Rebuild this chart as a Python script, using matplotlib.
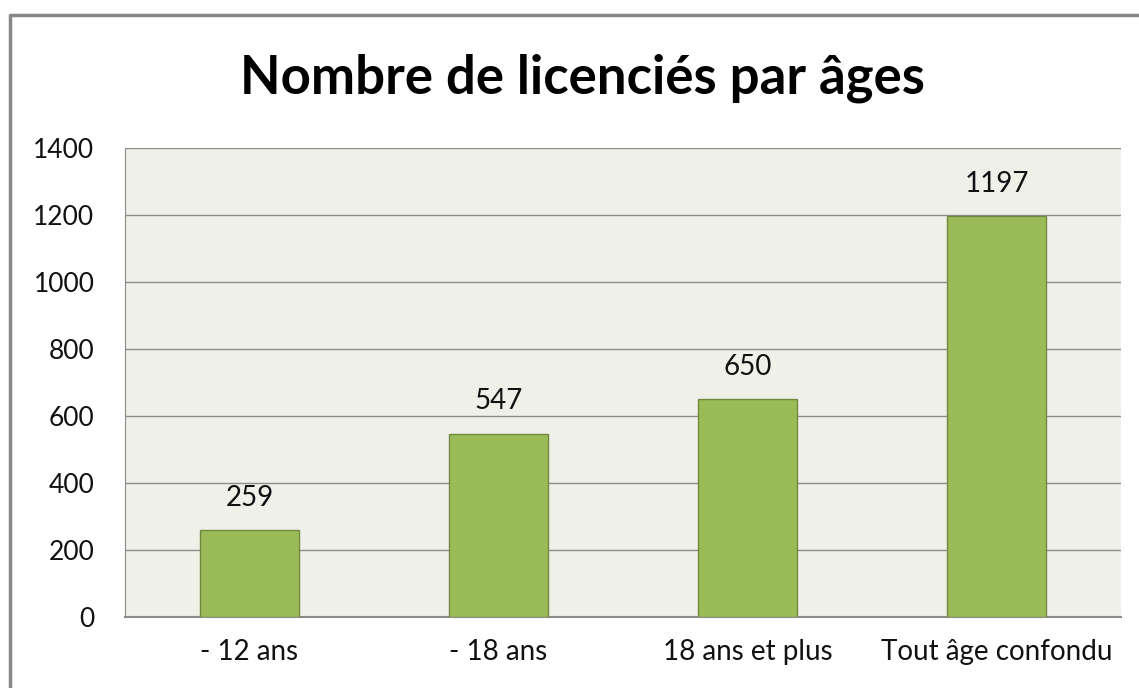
import matplotlib.pyplot as plt
from matplotlib.lines import Line2D

categories = ["- 12 ans", "- 18 ans", "18 ans et plus", "Tout âge confondu"]
values = [259, 547, 650, 1197]
y_ticks = [0, 200, 400, 600, 800, 1000, 1200, 1400]

plt.rcParams['font.family'] = ['Lato', 'DejaVu Sans']

W, H = 1139, 688
fig = plt.figure(figsize=(W / 100, H / 100), dpi=100)
fig.patch.set_facecolor("white")

# outer chart border (only top and left are inside the picture)
fig.lines.append(Line2D([10 / W, 10 / W, 1.0], [0.0, 1 - 15 / H, 1 - 15 / H],
                        transform=fig.transFigure, color="#878787", linewidth=2.5))

ax = fig.add_axes([125 / W, 1 - 617 / H, (1121 - 125) / W, (617 - 148) / H])
ax.set_facecolor("#EFF1E9")

x = range(len(categories))
bars = ax.bar(x, values, width=0.4, color="#9BBB59", edgecolor="#71893F", linewidth=1, zorder=3)
for b, v in zip(bars, values):
    ax.text(b.get_x() + b.get_width() / 2, v + 58, str(v), ha="center", va="bottom",
            fontsize=20, color="#111111")

ax.set_xlim(-0.5, len(categories) - 0.5)
ax.set_ylim(0, 1400)
ax.set_yticks(y_ticks)
ax.set_xticks(list(x))
ax.set_xticklabels(categories)
ax.grid(axis="y", color="#8c8c8c", linewidth=1, zorder=0)
ax.tick_params(axis="y", length=0, pad=22, labelsize=19, labelcolor="#111111")
ax.tick_params(axis="x", length=0, pad=16, labelsize=20, labelcolor="#111111")
for s in ["top", "right"]:
    ax.spines[s].set_visible(False)
ax.spines["left"].set_color("#8c8c8c")
ax.spines["bottom"].set_color("#8c8c8c")
ax.spines["bottom"].set_linewidth(1.5)

fig.text(582 / W, 1 - 78 / H, "Nombre de licenciés par âges", ha="center", va="center",
         fontsize=38, fontweight="bold", color="black")

fig.savefig("out.png", dpi=100)
